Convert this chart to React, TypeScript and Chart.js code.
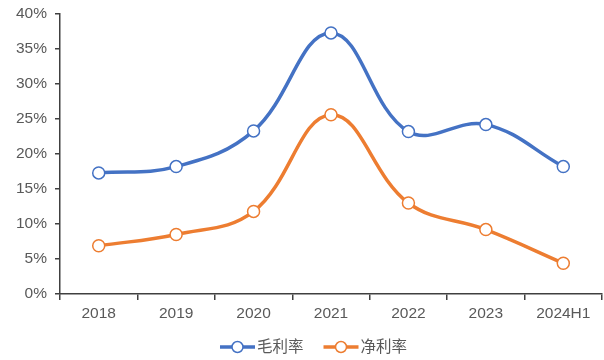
import React, { useEffect, useRef } from "react";
import { Chart, registerables } from "chart.js";

Chart.register(...registerables);

const categories = ["2018", "2019", "2020", "2021", "2022", "2023", "2024H1"];
const grossMargin = [17.3, 18.2, 23.3, 37.3, 23.2, 24.2, 18.2];
const netMargin = [6.9, 8.5, 11.8, 25.6, 13.0, 9.2, 4.4];
const seriesNames = ["毛利率", "净利率"];
const seriesColors = ["#4472C4", "#ED7D31"];

const FONT = "'Liberation Sans', Arial, 'Noto Sans CJK SC', sans-serif";
const TEXT = "#595959";
const AXIS = "#404040";

const legendPlugin = {
  id: "customLegend",
  afterDraw(chart: any) {
    const ctx = chart.ctx;
    const y = 347;
    ctx.save();
    ctx.font = `15.5px ${FONT}`;
    ctx.textBaseline = "middle";
    ctx.textAlign = "left";
    const itemW = seriesNames.map((n) => 38 + ctx.measureText(n).width);
    const gap = 19;
    const total = itemW.reduce((a, b) => a + b, 0) + gap;
    let x = (chart.width - total) / 2 + 12;
    seriesNames.forEach((name, i) => {
      ctx.strokeStyle = seriesColors[i];
      ctx.lineWidth = 3.5;
      ctx.beginPath();
      ctx.moveTo(x, y);
      ctx.lineTo(x + 35, y);
      ctx.stroke();
      ctx.beginPath();
      ctx.arc(x + 17.5, y, 5.5, 0, Math.PI * 2);
      ctx.fillStyle = "#fff";
      ctx.fill();
      ctx.lineWidth = 1.5;
      ctx.stroke();
      ctx.fillStyle = TEXT;
      ctx.fillText(name, x + 37, y + 1);
      x += itemW[i] + gap;
    });
    ctx.restore();
  },
};

export default function App() {
  const ref = useRef<HTMLCanvasElement | null>(null);
  useEffect(() => {
    document.body.style.margin = "0";
    const c = ref.current!;
    const mkDs = (label: string, data: number[], color: string) => ({
      label,
      data,
      borderColor: color,
      backgroundColor: "#fff",
      borderWidth: 3.5,
      tension: 0.4,
      pointRadius: 6,
      pointBorderWidth: 1.5,
      pointBackgroundColor: "#fff",
      pointBorderColor: color,
    });
    const chart = new Chart(c, {
      type: "line",
      data: {
        labels: categories,
        datasets: [
          mkDs(seriesNames[0], grossMargin, seriesColors[0]),
          mkDs(seriesNames[1], netMargin, seriesColors[1]),
        ],
      },
      options: {
        animation: false,
        responsive: false,
        maintainAspectRatio: false,
        layout: { autoPadding: false, padding: { top: 14, right: 2, bottom: 40, left: 0 } },
        plugins: { legend: { display: false }, tooltip: { enabled: false } },
        scales: {
          x: {
            offset: true,
            grid: {
              offset: true,
              drawOnChartArea: false,
              drawTicks: true,
              tickLength: 6,
              color: AXIS,
              lineWidth: 1.5,
            },
            border: { color: AXIS, width: 1.5 },
            ticks: { color: TEXT, font: { family: FONT, size: 15.5 }, padding: 4, maxRotation: 0 },
            afterFit: (s: any) => {
              s.height = 26;
              s.paddingLeft = 0;
              s.paddingRight = 0;
            },
          },
          y: {
            min: 0,
            max: 40,
            ticks: {
              stepSize: 5,
              color: TEXT,
              font: { family: FONT, size: 15.5 },
              padding: 8,
              callback: (v: any) => v + "%",
            },
            grid: {
              drawOnChartArea: false,
              tickLength: 5,
              color: AXIS,
              lineWidth: 1.5,
            },
            border: { color: AXIS, width: 1.5 },
            afterFit: (s: any) => {
              s.width = 60;
              s.paddingTop = 0;
              s.paddingBottom = 0;
            },
          },
        },
      },
      plugins: [legendPlugin],
    });
    return () => chart.destroy();
  }, []);
  return <canvas ref={ref} width={604} height={360} style={{ display: "block" }} />;
}
